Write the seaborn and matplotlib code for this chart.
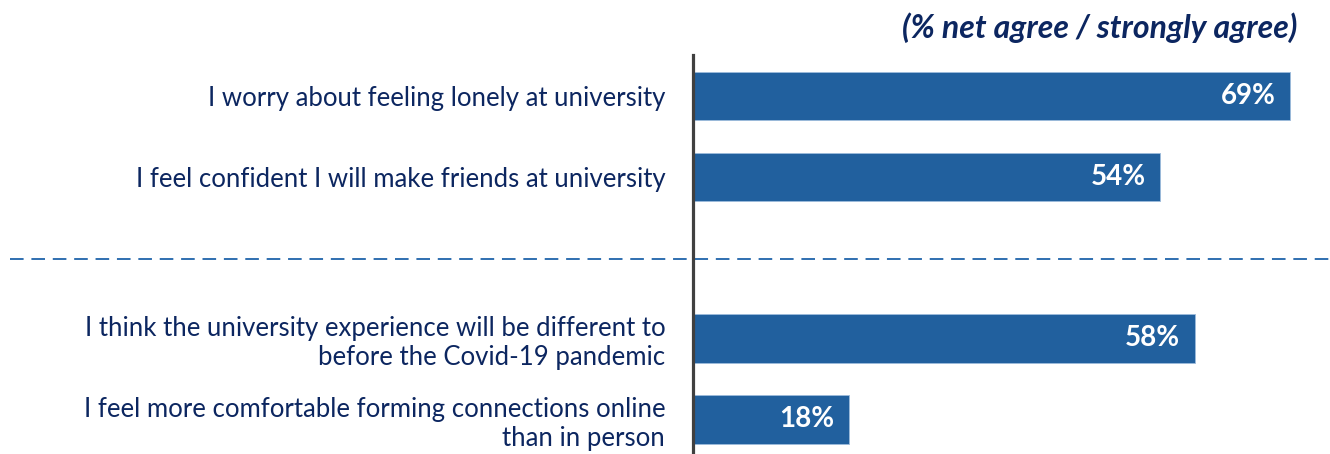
import numpy as np
import pandas as pd
import matplotlib
import matplotlib.pyplot as plt
import matplotlib.transforms as mtransforms
import seaborn as sns

matplotlib.use("Agg")

# Data
statements = [
    "I worry about feeling lonely at university",
    "I feel confident I will make friends at university",
    "I think the university experience will be different to\nbefore the Covid-19 pandemic",
    "I feel more comfortable forming connections online\nthan in person",
]
values = [69, 54, 58, 18]
positions = [0, 1, 3, 4]   # gap at 2 for the separator

# Colors and style
c_bar = "#21609e"
c_text = "#0c2660"
c_axis = "#404040"
c_dash = "#2f6fb0"

df = pd.DataFrame({"statement": statements, "value": values, "pos": positions})

sns.set_style("white")
plt.rcParams["font.family"] = ["Lato", "DejaVu Sans"]

fig = plt.figure(figsize=(13.3, 4.54), dpi=100)
ax = fig.add_axes([693 / 1330, 0, 637 / 1330, 399 / 454])

sns.barplot(data=df, x="value", y="pos", orient="h", native_scale=True,
            color=c_bar, width=0.6, saturation=1, ax=ax,
            edgecolor="#9dbbdc", linewidth=0.6)

ax.set_xlim(0, 73.6)
ax.set_ylim(4.43, -0.51)
ax.set_xlabel("")
ax.set_ylabel("")
ax.set_xticks([])
ax.set_yticks(positions)
ax.set_yticklabels(statements, fontsize=18.5, color=c_text, linespacing=1.2)
ax.tick_params(axis="y", length=0, pad=20)

for s in ["top", "right", "bottom"]:
    ax.spines[s].set_visible(False)
ax.spines["left"].set_color(c_axis)
ax.spines["left"].set_linewidth(2.3)

# value labels inside bar ends
for p, v in zip(positions, values):
    ax.text(v - 1.7, p, f"{v}%", ha="right", va="center",
            color="white", fontsize=20, fontweight="bold")

# dashed separator across the whole figure
trans = mtransforms.blended_transform_factory(fig.transFigure, ax.transData)
ax.plot([10 / 1330, 1], [2.02, 2.02], transform=trans, clip_on=False,
        color=c_dash, lw=1.4, dashes=(7, 4))

fig.text(1297 / 1330, 1 - 28 / 454, "(% net agree / strongly agree)",
         ha="right", va="center", fontsize=23, fontweight="bold",
         fontstyle="italic", color=c_text)

fig.savefig("out.png", dpi=100)
